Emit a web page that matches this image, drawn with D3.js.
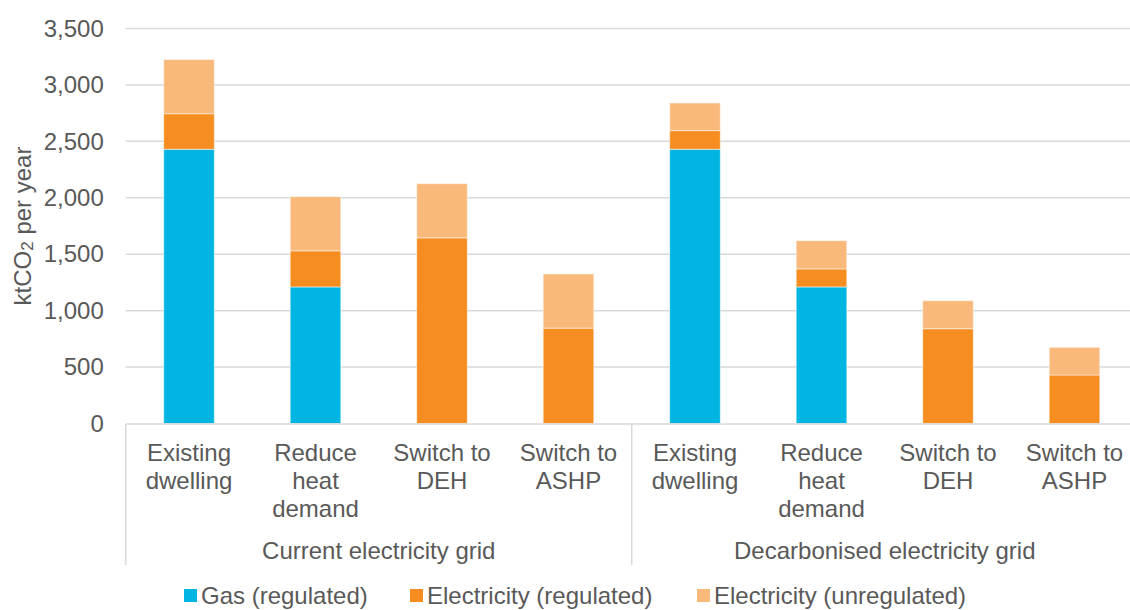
<!DOCTYPE html>
<html>
<head>
<meta charset="utf-8">
<script src="https://cdn.jsdelivr.net/npm/d3@7"></script>
<style>
  html, body { margin: 0; padding: 0; background: #fff; overflow: hidden; }
  svg { display: block; font-family: "Liberation Sans", Arial, sans-serif; }
</style>
</head>
<body>
<svg id="chart" width="1130" height="610"></svg>
<script>
// Scenario labels (split onto lines) and grid groupings
const scenarios = [
  ["Existing", "dwelling"],
  ["Reduce", "heat", "demand"],
  ["Switch to", "DEH"],
  ["Switch to", "ASHP"]
];
const grids = ["Current electricity grid", "Decarbonised electricity grid"];

// ktCO2 per year, one value per bar (current grid x4, decarbonised grid x4)
const gasRegulated = [2430, 1210, 0, 0, 2430, 1210, 0, 0];
const elecRegulated = [315, 320, 1645, 845, 165, 160, 840, 430];
const elecUnregulated = [480, 480, 480, 480, 245, 250, 248, 245];

const seriesNames = ["Gas (regulated)", "Electricity (regulated)", "Electricity (unregulated)"];
const seriesColors = ["#00B5E2", "#F68D21", "#F9B97B"];
const yTicks = [0, 500, 1000, 1500, 2000, 2500, 3000, 3500];

const textColor = "#595959";
const gridColor = "#D9D9D9";

const svg = d3.select("#chart");

// Bar rows
const rows = [];
grids.forEach((g, gi) => {
  scenarios.forEach((s, si) => {
    const i = gi * scenarios.length + si;
    rows.push({
      key: gi + "-" + si,
      gi, si,
      "Gas (regulated)": gasRegulated[i],
      "Electricity (regulated)": elecRegulated[i],
      "Electricity (unregulated)": elecUnregulated[i]
    });
  });
});

const plotLeft = 125.75, plotRight = 1137.75, plotTop = 28.5, plotBottom = 423.5;

const x = d3.scaleBand()
  .domain(rows.map(d => d.key))
  .range([plotLeft, plotRight])
  .paddingInner(0.6)
  .paddingOuter(0.3);

const y = d3.scaleLinear().domain([0, 3500]).range([plotBottom, plotTop]);

// Horizontal gridlines
svg.append("g")
  .selectAll("line")
  .data(yTicks.filter(t => t > 0))
  .join("line")
  .attr("x1", plotLeft)
  .attr("x2", plotRight)
  .attr("y1", d => y(d))
  .attr("y2", d => y(d))
  .attr("stroke", gridColor)
  .attr("stroke-width", 1.5);

// Y axis tick labels
const yAxis = svg.append("g")
  .attr("transform", `translate(${plotLeft - 22},0)`)
  .call(d3.axisLeft(y).tickValues(yTicks).tickFormat(d3.format(",")).tickSize(0).tickPadding(0));
yAxis.select(".domain").remove();
yAxis.selectAll("text")
  .attr("fill", textColor)
  .attr("font-size", 24)
  .attr("font-family", "Liberation Sans, Arial, sans-serif");

// Y axis title with subscript
const yTitle = svg.append("text")
  .attr("transform", `translate(31,${(plotTop + plotBottom) / 2}) rotate(-90)`)
  .attr("text-anchor", "middle")
  .attr("fill", textColor)
  .attr("font-size", 24);
yTitle.append("tspan").text("ktCO");
yTitle.append("tspan").attr("font-size", 17).attr("dy", 2).text("2");
yTitle.append("tspan").attr("dy", -2).text(" per year");

// Stacked bars
const stack = d3.stack().keys(seriesNames);
const stacked = stack(rows);

svg.append("g")
  .selectAll("g")
  .data(stacked)
  .join("g")
  .attr("fill", (d, i) => seriesColors[i])
  .selectAll("rect")
  .data(d => d.filter(p => p[1] - p[0] > 0))
  .join("rect")
  .attr("x", d => x(d.data.key))
  .attr("width", x.bandwidth())
  .attr("y", d => y(d[1]))
  .attr("height", d => y(d[0]) - y(d[1]))
  .attr("stroke", "#fff")
  .attr("stroke-opacity", 0.5)
  .attr("stroke-width", 1);

// Category axis line and group separators
const axisG = svg.append("g");
axisG.append("line")
  .attr("x1", plotLeft).attr("x2", plotRight)
  .attr("y1", plotBottom + 0.5).attr("y2", plotBottom + 0.5)
  .attr("stroke", gridColor).attr("stroke-width", 1.5);

const groupEdges = [0, 1, 2].map(i => plotLeft + i * (plotRight - plotLeft) / grids.length);
axisG.selectAll("line.sep")
  .data(groupEdges)
  .join("line")
  .attr("class", "sep")
  .attr("x1", d => d).attr("x2", d => d)
  .attr("y1", plotBottom + 0.5).attr("y2", 565)
  .attr("stroke", gridColor).attr("stroke-width", 1.5);

// Scenario labels
const catLabels = axisG.selectAll("text.cat")
  .data(rows)
  .join("text")
  .attr("class", "cat")
  .attr("text-anchor", "middle")
  .attr("fill", textColor)
  .attr("font-size", 24)
  .attr("x", d => x(d.key) + x.bandwidth() / 2)
  .attr("y", 460.5);
catLabels.selectAll("tspan")
  .data(d => scenarios[d.si].map(line => ({ line, cx: x(d.key) + x.bandwidth() / 2 })))
  .join("tspan")
  .attr("x", d => d.cx)
  .attr("dy", (d, i) => i === 0 ? 0 : 28)
  .text(d => d.line);

// Grid group labels
axisG.selectAll("text.grp")
  .data(grids)
  .join("text")
  .attr("class", "grp")
  .attr("text-anchor", "middle")
  .attr("fill", textColor)
  .attr("font-size", 24)
  .attr("x", (d, i) => (groupEdges[i] + groupEdges[i + 1]) / 2)
  .attr("y", 559)
  .text(d => d);

// Legend
const legendX = [184, 410, 697];
const legend = svg.append("g");
const items = legend.selectAll("g")
  .data(seriesNames)
  .join("g")
  .attr("transform", (d, i) => `translate(${legendX[i]},0)`);
items.append("rect")
  .attr("x", 0).attr("y", 589)
  .attr("width", 13).attr("height", 13)
  .attr("fill", (d, i) => seriesColors[i]);
items.append("text")
  .attr("x", 17).attr("y", 604)
  .attr("fill", textColor)
  .attr("font-size", 24)
  .text(d => d);
</script>
</body>
</html>
